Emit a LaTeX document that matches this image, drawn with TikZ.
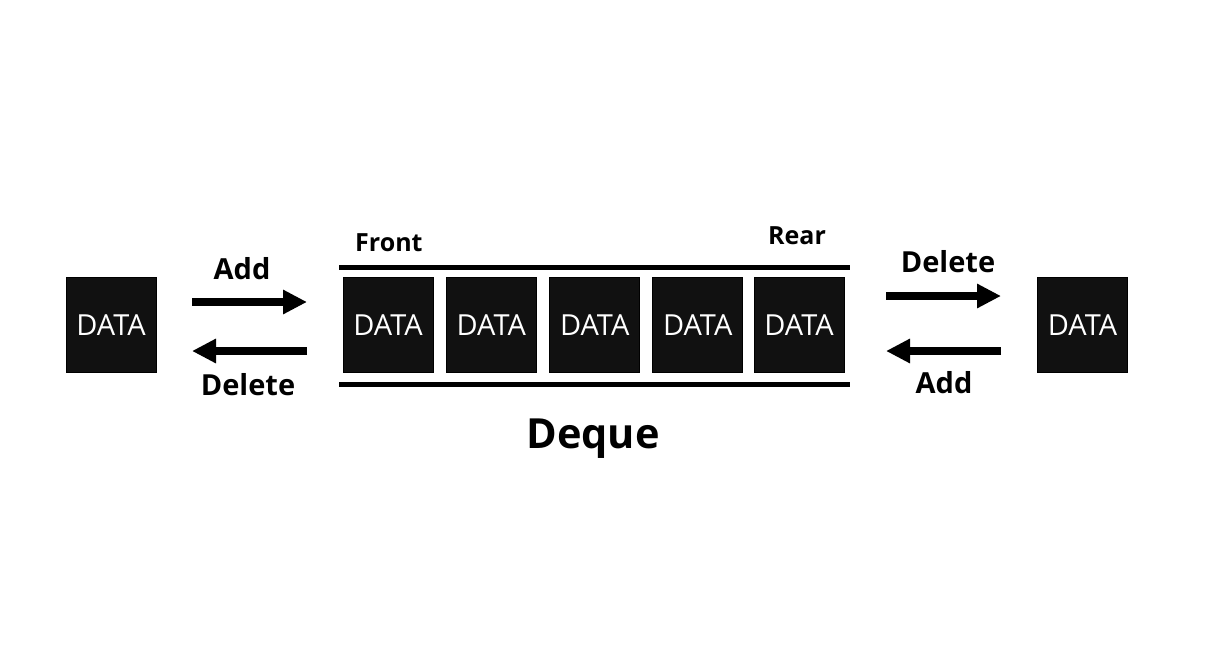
\documentclass[tikz,border=0pt]{standalone}
\usepackage{fontspec}
\setmainfont{Open Sans}
\usetikzlibrary{arrows.meta}
\definecolor{boxfill}{HTML}{111111}
\tikzset{
  databox/.style={draw=black, line width=1pt, fill=boxfill, minimum width=90pt, minimum height=95pt, inner sep=0pt, text=white, font=\fontsize{29}{32}\selectfont},
  bigarrow/.style={line width=8.5pt, -{Triangle[length=24pt,width=23pt]}},
  rail/.style={line width=5pt},
  oplabel/.style={anchor=base, font=\fontsize{29}{34}\selectfont\bfseries, inner sep=0pt},
  endlabel/.style={anchor=base, font=\fontsize{25}{28}\selectfont\bfseries, inner sep=0pt},
  titlelabel/.style={anchor=base, font=\fontsize{41.5}{46}\selectfont\bfseries, inner sep=0pt}
}
\begin{document}
\begin{tikzpicture}[x=1pt,y=-1pt]
\useasboundingbox (0,0) rectangle (1220,648);
% outer boxes
\node[databox] (left) at (111,325) {\raisebox{-2pt}{DATA}};
\node[databox] (right) at (1082.5,325) {\raisebox{-2pt}{DATA}};
% deque boxes
\node[databox] (d1) at (388,325) {\raisebox{-2pt}{DATA}};
\node[databox] (d2) at (491.3,325) {\raisebox{-2pt}{DATA}};
\node[databox] (d3) at (594.7,325) {\raisebox{-2pt}{DATA}};
\node[databox] (d4) at (697.7,325) {\raisebox{-2pt}{DATA}};
\node[databox] (d5) at (799,325) {\raisebox{-2pt}{DATA}};
% rails
\coordinate (tl) at (339,267.5);
\coordinate (tr) at (850,267.5);
\coordinate (bl) at (339,384.5);
\coordinate (br) at (850,384.5);
\draw[rail] (tl) -- (tr);
\draw[rail] (bl) -- (br);
% arrows left
\coordinate (la1) at (192,302);
\coordinate (la2) at (307,302);
\coordinate (lb1) at (307,351);
\coordinate (lb2) at (192,351);
\draw[bigarrow] (la1) -- (la2);
\draw[bigarrow] (lb1) -- (lb2);
% arrows right
\coordinate (ra1) at (886,296);
\coordinate (ra2) at (1001,296);
\coordinate (rb1) at (1001,351);
\coordinate (rb2) at (886,351);
\draw[bigarrow] (ra1) -- (ra2);
\draw[bigarrow] (rb1) -- (rb2);
% labels
\node[oplabel] (addL) at (242,279) {Add};
\node[oplabel] (delL) at (248,395) {Delete};
\node[oplabel] (delR) at (948,272) {Delete};
\node[oplabel] (addR) at (944,393) {Add};
\node[endlabel, anchor=base west] (front) at (355,251.5) {Front};
\node[endlabel] (rear) at (797,244) {Rear};
\node[titlelabel] (title) at (593,448) {Deque};
\end{tikzpicture}
\end{document}
